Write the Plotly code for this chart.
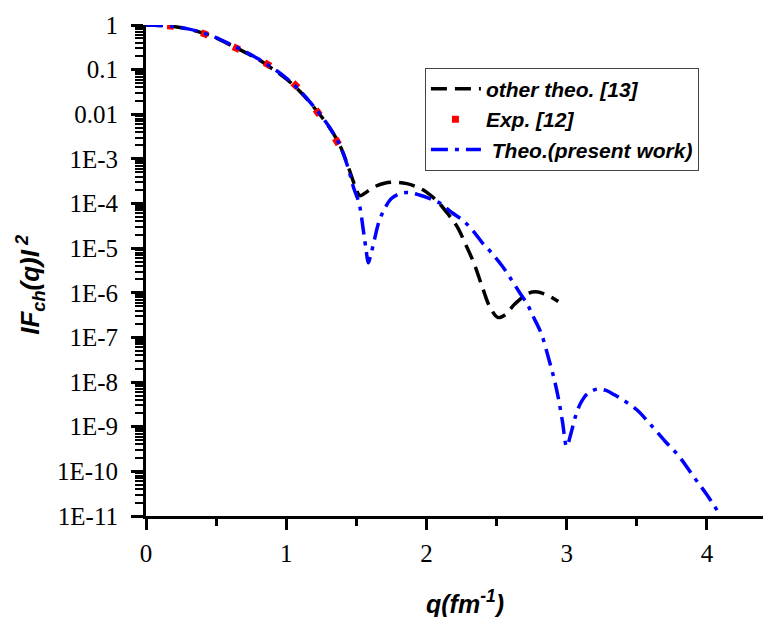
import plotly.graph_objects as go

# ---- data ----
q_other = [0, 0.1, 0.2, 0.3, 0.4, 0.5, 0.6, 0.7, 0.8, 0.9, 1.0, 1.1, 1.2, 1.3, 1.38,
           1.44, 1.49, 1.525, 1.56, 1.62, 1.70, 1.78, 1.86, 1.94, 2.00, 2.08, 2.16,
           2.22, 2.28, 2.34, 2.40, 2.45, 2.51, 2.56, 2.63, 2.72, 2.78, 2.84, 2.89, 2.94]
f_other = [1.0, 0.98, 0.92, 0.81, 0.67, 0.51, 0.36, 0.25, 0.17, 0.105, 0.062, 0.032,
           0.014, 0.0055, 0.0021, 7e-4, 2.5e-4, 1.5e-4, 1.7e-4, 2.3e-4, 2.85e-4, 3.0e-4,
           2.8e-4, 2.3e-4, 1.8e-4, 1.1e-4, 5.5e-5, 3.0e-5, 1.2e-5, 4.5e-6, 1.3e-6, 5e-7,
           2.8e-7, 3.2e-7, 5.6e-7, 9.5e-7, 1.05e-6, 9.5e-7, 8e-7, 6.4e-7]

q_exp = [0, 0.2, 0.4, 0.6, 0.83, 1.05, 1.23, 1.38]
f_exp = [1.0, 0.93, 0.66, 0.35, 0.155, 0.05, 0.0105, 0.002]

q_theo = [0, 0.1, 0.2, 0.3, 0.4, 0.5, 0.6, 0.7, 0.8, 0.9, 1.0, 1.1, 1.2, 1.3, 1.38,
          1.44, 1.48, 1.52, 1.55, 1.57, 1.585, 1.60, 1.63, 1.66, 1.70, 1.75, 1.82,
          1.88, 1.95, 2.02, 2.10, 2.18, 2.26, 2.33, 2.40, 2.47, 2.54, 2.60, 2.67,
          2.72, 2.77, 2.82, 2.87, 2.91, 2.94, 2.97, 3.0, 3.03, 3.06, 3.10, 3.15,
          3.22, 3.28, 3.34, 3.40, 3.50, 3.60, 3.70, 3.80, 3.90, 4.00, 4.09]
f_theo = [1.0, 0.98, 0.93, 0.82, 0.68, 0.52, 0.37, 0.26, 0.175, 0.11, 0.065, 0.033,
          0.0145, 0.0056, 0.0021, 6.5e-4, 2.3e-4, 1e-4, 2.5e-5, 9e-6, 4.7e-6, 6.5e-6,
          1.6e-5, 3.8e-5, 7.5e-5, 1.3e-4, 1.7e-4, 1.75e-4, 1.55e-4, 1.3e-4, 1.0e-4,
          6.3e-5, 4.2e-5, 2.5e-5, 1.3e-5, 7.5e-6, 4e-6, 2.1e-6, 9.5e-7, 5.5e-7,
          2.6e-7, 1.2e-7, 3.5e-8, 1.2e-8, 4.5e-9, 1.3e-9, 3.6e-10, 7e-10, 1.6e-9,
          3.4e-9, 5.6e-9, 7e-9, 6.5e-9, 5.2e-9, 4e-9, 2.4e-9, 1.1e-9, 4.8e-10,
          2.2e-10, 8e-11, 3e-11, 1.1e-11]

y_tickvals = [1, 0.1, 0.01, 1e-3, 1e-4, 1e-5, 1e-6, 1e-7, 1e-8, 1e-9, 1e-10, 1e-11]
y_ticktext = ["1", "0.1", "0.01", "1E-3", "1E-4", "1E-5", "1E-6", "1E-7", "1E-8",
              "1E-9", "1E-10", "1E-11"]
x_tickvals = [0, 1, 2, 3, 4]
x_ticktext = ["0", "1", "2", "3", "4"]
y_minor = [k * 10.0 ** e for e in range(-11, 0) for k in range(2, 10)]

fig = go.Figure()
fig.add_trace(go.Scatter(x=q_other, y=f_other, mode="lines", name="other theo. [13]",
                         line=dict(color="black", width=3.5, dash="16px,8px", shape="spline")))
fig.add_trace(go.Scatter(x=q_exp, y=f_exp, mode="lines", name="Exp. [12]",
                         line=dict(color="red", width=7, dash="0px,21px,7px,7px",
                                   shape="spline")))
fig.add_trace(go.Scatter(x=q_theo, y=f_theo, mode="lines", name=" Theo.(present work)",
                         line=dict(color="blue", width=3.5, dash="17px,7px,4px,7px",
                                   shape="spline")))

serif = "Liberation Serif"
sans = "Liberation Sans"

fig.update_layout(
    width=763, height=609,
    margin=dict(l=138, r=1, t=17, b=101),
    paper_bgcolor="white", plot_bgcolor="white",
    font=dict(family=serif, size=25, color="black"),
    showlegend=True,
    legend=dict(x=0.447, y=0.913, xanchor="left", yanchor="top",
                bgcolor="white", bordercolor="#444", borderwidth=1,
                font=dict(family=sans, size=21, color="black", weight="bold", style="italic"),
                itemwidth=50),
    xaxis=dict(range=[0, 4.45], tickmode="array", tickvals=x_tickvals, ticktext=x_ticktext,
               showgrid=False, zeroline=False,
               showline=True, linecolor="black", linewidth=3,
               ticks="outside", ticklen=11, tickwidth=3, tickcolor="black",
               ticklabelstandoff=2,
               tickfont=dict(family=serif, size=25, color="black", weight="normal",
                             style="normal"),
               minor=dict(ticks="outside", ticklen=7, tickwidth=2.5, tickcolor="black",
                          dtick=0.5, showgrid=False)),
    yaxis=dict(type="log", range=[-11, 0], tickmode="array", tickvals=y_tickvals,
               ticktext=y_ticktext,
               showgrid=False, zeroline=False, showline=True, linecolor="black", linewidth=3,
               ticks="outside", ticklen=12, tickwidth=3, tickcolor="black",
               ticklabelstandoff=8,
               tickfont=dict(family=serif, size=25, color="black", weight="normal",
                             style="normal"),
               minor=dict(tickvals=y_minor, ticks="outside", ticklen=8, tickwidth=2,
                          tickcolor="black", showgrid=False)),
    annotations=[
        dict(text="q(fm<sup>-1</sup>)", xref="paper", yref="paper", x=0.511, y=-0.175,
             xanchor="center", yanchor="middle", showarrow=False,
             font=dict(family=sans, size=25, color="black", weight="bold", style="italic")),
        dict(text="IF<sub>ch</sub>(q)I<sup> 2</sup>", xref="paper", yref="paper",
             x=-0.185, y=0.47, xanchor="center", yanchor="middle", textangle=-90,
             showarrow=False,
             font=dict(family=sans, size=26, color="black", weight="bold", style="italic")),
    ],
)

fig.write_html("out.html")
